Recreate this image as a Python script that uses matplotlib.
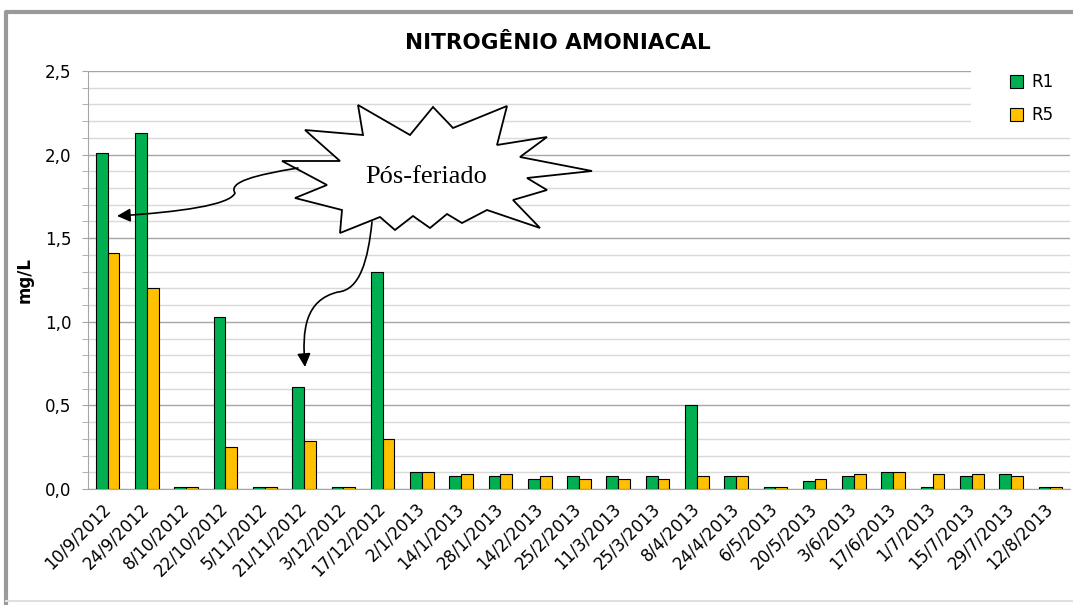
import matplotlib
matplotlib.use("Agg")
import numpy as np
import matplotlib.pyplot as plt
from matplotlib.path import Path
from matplotlib.patches import PathPatch, FancyArrowPatch, Rectangle
from matplotlib.lines import Line2D
from matplotlib.ticker import MultipleLocator, FuncFormatter
from matplotlib.transforms import Affine2D

dates = ["10/9/2012", "24/9/2012", "8/10/2012", "22/10/2012", "5/11/2012",
         "21/11/2012", "3/12/2012", "17/12/2012", "2/1/2013", "14/1/2013",
         "28/1/2013", "14/2/2013", "25/2/2013", "11/3/2013", "25/3/2013",
         "8/4/2013", "24/4/2013", "6/5/2013", "20/5/2013", "3/6/2013",
         "17/6/2013", "1/7/2013", "15/7/2013", "29/7/2013", "12/8/2013"]
r1 = [2.01, 2.13, 0.01, 1.03, 0.01, 0.61, 0.01, 1.30, 0.10, 0.08,
      0.08, 0.06, 0.08, 0.08, 0.08, 0.50, 0.08, 0.01, 0.05, 0.08,
      0.10, 0.01, 0.08, 0.09, 0.01]
r5 = [1.41, 1.20, 0.01, 0.25, 0.01, 0.29, 0.01, 0.30, 0.10, 0.09,
      0.09, 0.08, 0.06, 0.06, 0.06, 0.08, 0.08, 0.01, 0.06, 0.09,
      0.10, 0.09, 0.09, 0.08, 0.01]

W, H = 1073, 605
fig = plt.figure(figsize=(W / 100, H / 100), dpi=100)
ax = fig.add_axes([88 / W, 1 - 489 / H, (1070 - 88) / W, (489 - 71) / H])

# helper: pixel coords of the image -> figure
px = Affine2D().scale(1 / W, -1 / H).translate(0, 1) + fig.transFigure

# outer chart frame (left + top shadow, faint bottom)
fig.lines.append(Line2D([6, 6, W], [H, 12, 12], transform=px, color="#9a9a9a", linewidth=3))
fig.lines.append(Line2D([6, W], [601, 601], transform=px, color="#e0e0e0", linewidth=1.5))

x = np.arange(len(dates))
bw = 0.3
ax.bar(x - bw / 2, r1, bw, color="#00B050", edgecolor="black", linewidth=0.8, label="R1", zorder=3)
ax.bar(x + bw / 2, r5, bw, color="#FFC000", edgecolor="black", linewidth=0.8, label="R5", zorder=3)

ax.set_xlim(-0.5, len(dates) - 0.5)
ax.set_ylim(0, 2.5)
ax.yaxis.set_major_locator(MultipleLocator(0.5))
ax.yaxis.set_minor_locator(MultipleLocator(0.1))
ax.yaxis.set_major_formatter(FuncFormatter(lambda v, p: f"{v:.1f}".replace(".", ",")))
ax.grid(axis="y", which="major", color="#a6a6a6", linewidth=1.0, zorder=0)
ax.grid(axis="y", which="minor", color="#d9d9d9", linewidth=1.0, zorder=0)
for s in ["top", "right"]:
    ax.spines[s].set_visible(False)
ax.spines["left"].set_color("#a6a6a6")
ax.spines["bottom"].set_color("#a6a6a6")
ax.tick_params(axis="y", which="both", length=4, color="#a6a6a6", labelsize=12, pad=8)
ax.tick_params(axis="x", length=0, labelsize=12, pad=12)
ax.set_xticks(x)
ax.set_xticklabels(dates, rotation=45, ha="right", va="center", rotation_mode="anchor")
ax.set_ylabel("mg/L", fontsize=12, fontweight="bold", labelpad=8)

fig.text(558 / W, 1 - 43 / H, "NITROGÊNIO AMONIACAL", ha="center", va="center",
         fontsize=15.5, fontweight="bold",
         family=["Liberation Sans Narrow", "DejaVu Sans"])

# legend sits on a white box over the gridlines
fig.patches.append(Rectangle((971, 62), 102, 68, transform=px, facecolor="white",
                             edgecolor="none", zorder=2))
leg = fig.legend(*ax.get_legend_handles_labels(), loc="upper left",
                 bbox_to_anchor=(995 / W, 1 - 58 / H), frameon=False, fontsize=12,
                 handlelength=0.8, handleheight=0.8, labelspacing=0.9, handletextpad=0.5)
leg.set_zorder(3)

# starburst callout
star = [(358, 105), (363, 135), (305, 130), (340, 161), (282, 161), (327, 185),
        (295, 198), (342, 210), (340, 233), (380, 217), (395, 230), (413, 216),
        (430, 228), (447, 214), (462, 223), (487, 210), (540, 228), (513, 200),
        (547, 190), (527, 178), (592, 171), (520, 157), (547, 137), (497, 145),
        (507, 106), (453, 128), (433, 107), (410, 135)]
fig.patches.append(PathPatch(Path(star + [star[0]], closed=True), transform=px,
                             facecolor="white", edgecolor="black", linewidth=1.3, zorder=5))
fig.text(426 / W, 1 - 177 / H, "Pós-feriado", ha="center", va="center", fontsize=19,
         family=["Liberation Serif", "DejaVu Serif"], zorder=6)

C4 = Path.CURVE4
a1 = Path([(298, 168), (255, 175), (228, 182), (235, 193), (230, 205), (180, 212), (117, 216)],
          [Path.MOVETO, C4, C4, C4, C4, C4, C4])
a2 = Path([(372, 222), (368, 260), (360, 290), (338, 292), (305, 300), (302, 330), (305, 367)],
          [Path.MOVETO, C4, C4, C4, C4, C4, C4])
for p in (a1, a2):
    fig.patches.append(FancyArrowPatch(path=p, transform=px, arrowstyle="-|>,head_length=8,head_width=4",
                                       color="black", linewidth=1.2, zorder=6))

fig.savefig("out.png", dpi=100)
